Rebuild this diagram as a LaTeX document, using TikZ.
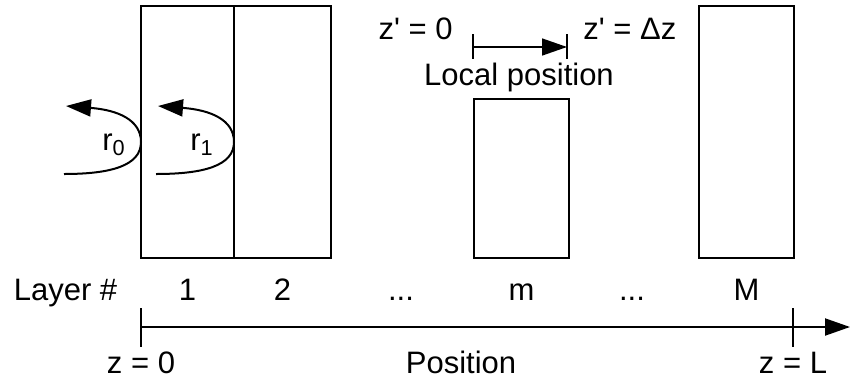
\documentclass[tikz,border=0pt]{standalone}
\usepackage{fontspec}
\setmainfont{Liberation Sans}
\usetikzlibrary{positioning,arrows.meta,calc}

\begin{document}
\begin{tikzpicture}[
    x=0.5pt, y=-0.5pt,
    layerbox/.style={rectangle, draw, line width=1pt, inner sep=0pt, outer sep=0pt},
    tag/.style={font=\fontsize{15.5}{18}\selectfont, inner sep=0pt, anchor=base},
    arrow/.style={-{Triangle[length=12.5pt, width=8.5pt]}, line width=1pt},
    tickline/.style={line width=1pt},
]
\useasboundingbox (0,0) rectangle (850,381);

% ====== Layers ======
\node[layerbox, minimum width=46.5pt, minimum height=126pt] (lay1) at (187.5,132) {};
\node[layerbox, minimum width=48.5pt, minimum height=126pt] (lay2) at (282.5,132) {};
\node[layerbox, minimum width=47.5pt, minimum height=79.5pt] (laym) at (521.5,178.5) {};
\node[layerbox, minimum width=47.5pt, minimum height=126pt] (layM) at (746.5,132) {};

% ====== Layer numbers ======
\node[tag] (hdr) at (65.5,300) {Layer \#};
\node[tag] (num1) at (187.5,300) {1};
\node[tag] (num2) at (282.5,300) {2};
\node[tag] (dots1) at (401,300) {...};
\node[tag] (numm) at (521.5,300) {m};
\node[tag] (dots2) at (632,300) {...};
\node[tag] (numM) at (746.5,300) {M};

% ====== Reflections ======
\coordinate (r0in) at (64,174);
\coordinate (r0apex) at (141,142);
\coordinate (r0out) at (66,106);
\draw[arrow] (r0in) .. controls (110,174) and (141,166) .. (r0apex)
    .. controls (141,120) and (118,110) .. (r0out);
\node[tag] (r0) at (114,150) {r\textsubscript{0}};

\coordinate (r1in) at (156,174);
\coordinate (r1apex) at (234,142);
\coordinate (r1out) at (158,106);
\draw[arrow] (r1in) .. controls (203,174) and (234,166) .. (r1apex)
    .. controls (234,120) and (211,110) .. (r1out);
\node[tag] (r1) at (202,150) {r\textsubscript{1}};

% ====== Local position ======
\coordinate (loc0) at (473,47);
\coordinate (loc1) at (567,47);
\draw[arrow, line width=0.75pt] (loc0) -- (loc1);
\draw[tickline, line width=0.75pt] ($(loc0)+(0,-13)$) -- ($(loc0)+(0,12)$);
\draw[tickline, line width=0.75pt] ($(loc1)+(0,-13)$) -- ($(loc1)+(0,12)$);
\node[tag, anchor=base east] (zp0) at (453,39) {z\textquotesingle{} = 0};
\node[tag, anchor=base west] (zpdz) at (583,39) {z\textquotesingle{} = Δz};
\node[tag] (locpos) at (519,85) {Local position};

% ====== Position axis ======
\coordinate (z0) at (141,327);
\coordinate (zL) at (793,327);
\coordinate (zend) at (850,327);
\draw[arrow] (z0) -- (zend);
\draw[tickline] ($(z0)+(0,-19)$) -- ($(z0)+(0,20)$);
\draw[tickline] ($(zL)+(0,-19)$) -- ($(zL)+(0,20)$);
\node[tag] (z0txt) at (141,373) {z = 0};
\node[tag] (zLtxt) at (793,373) {z = L};
\node[tag] (postxt) at (461,373) {Position};

\end{tikzpicture}
\end{document}
